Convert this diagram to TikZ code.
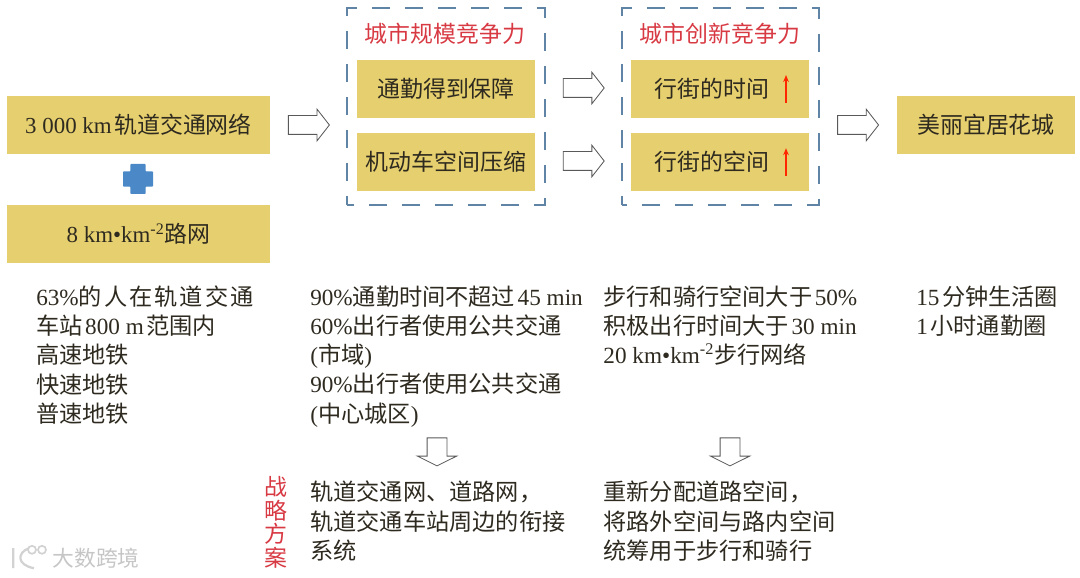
\documentclass[tikz,border=0pt]{standalone}
\usepackage{fontspec}
\setmainfont{Noto Sans CJK SC}
\newfontfamily\lat{Liberation Serif}
\usetikzlibrary{shapes.arrows,arrows.meta,positioning}
\definecolor{boxfill}{HTML}{E6CF6E}
\definecolor{dashblue}{HTML}{5F84A6}
\definecolor{plusblue}{HTML}{4A88C7}
\definecolor{inkdark}{HTML}{2E2A20}
\definecolor{titlered}{HTML}{D83A44}
\newcommand{\rmgap}[1]{\hspace{1.8pt}{\lat #1}\hspace{1.8pt}}
\tikzset{
  body/.style     ={font=\fontsize{16.3}{20.8}\selectfont,text=inkdark},
  goldbox/.style  ={rectangle,fill=boxfill,minimum height=1.45cm,inner sep=0pt,
                    align=center,body},
  wide/.style     ={goldbox,minimum width=6.575cm},
  inner/.style    ={goldbox,minimum width=4.45cm},
  title/.style    ={inner sep=0pt,font=\fontsize{16.3}{20.8}\selectfont,text=titlered},
  para/.style     ={anchor=north west,inner sep=0pt,align=left,
                    font=\fontsize{16.5}{20.8}\selectfont,text=inkdark},
  frame/.style    ={draw=dashblue,line width=0.9pt,dash pattern=on 0.45cm off 0.375cm,
                    dash phase=0.225cm},
  rarr/.style     ={single arrow,draw=black!65,fill=white,line width=0.6pt,inner sep=0.225cm,
                    minimum width=0.775cm,minimum height=1.025cm,
                    single arrow head extend=0.16cm,single arrow tip angle=104},
  darr/.style     ={single arrow,draw=black!65,fill=white,line width=0.6pt,inner sep=0.2375cm,
                    minimum width=0.96cm,minimum height=0.7cm,shape border rotate=270,
                    single arrow head extend=0.24cm,single arrow tip angle=127},
  uparr/.style    ={-{Stealth[length=5pt,width=4pt]},line width=0.8pt,draw=red!70!orange}
}
\begin{document}
\begin{tikzpicture}
  \useasboundingbox (0,0) rectangle (27,14.425);

  % Left column
  \node (rail) at (3.4625, 11.3) [wide] {{\lat 3 000 km}\hspace{1.8pt}轨道交通网络};
  \node (road) at (3.4625, 8.575) [wide] {{\lat 8 km\textbullet km\textsuperscript{-2}}路网};
  \fill[plusblue, rounded corners=0.5pt] (3.26, 9.575) -- (3.64, 9.575) -- (3.64, 9.76) -- (3.825, 9.76)
    -- (3.825, 10.14) -- (3.64, 10.14) -- (3.64, 10.325) -- (3.26, 10.325) -- (3.26, 10.14)
    -- (3.075, 10.14) -- (3.075, 9.76) -- (3.26, 9.76) -- cycle;

  % Scale frame
  \draw[frame] (8.675, 9.3) rectangle (13.625, 14.225);
  \node (scale) at (11.125, 13.575) [title] {城市规模竞争力};
  \node (commute) at (11.15, 12.2) [inner] {通勤得到保障};
  \node (motor) at (11.15, 10.375) [inner] {机动车空间压缩};

  % Innovation frame
  \draw[frame] (15.55, 9.3) rectangle (20.475, 14.225);
  \node (innov) at (18.0, 13.575) [title] {城市创新竞争力};
  \node (timebox) at (18.0, 12.2) [inner] {\hspace{-0.4cm}行街的时间};
  \node (spacebox) at (18.0, 10.375) [inner] {\hspace{-0.4cm}行街的空间};
  \coordinate (timelow) at (19.65, 11.85);
  \coordinate (timeup) at (19.65, 12.55);
  \coordinate (spacelow) at (19.65, 10.03);
  \coordinate (spaceup) at (19.65, 10.72);
  \draw[uparr] (timelow) -- (timeup);
  \draw[uparr] (spacelow) -- (spaceup);

  % Goal
  \node (goal) at (24.65, 11.3) [inner] {美丽宜居花城};

  % Block arrows
  \node (a1) at (7.63, 11.3) [rarr] {};
  \node (a2) at (14.5, 12.225) [rarr] {};
  \node (a3) at (14.5, 10.4) [rarr] {};
  \node (a4) at (21.36, 11.3) [rarr] {};
  \node (a5) at (10.925, 3.19) [darr] {};
  \node (a6) at (18.25, 3.19) [darr] {};

  % Texts
  \node (txt1) at (0.9, 7.29) [para] {{\addfontfeature{LetterSpace=9}{\lat 63\%}的人在轨道交通}\\车站\rmgap{800 m}范围内\\高速地铁\\快速地铁\\普速地铁};
  \node (txt2) at (7.75, 7.29) [para] {{\lat 90\%}通勤时间不超过\rmgap{45 min}\\{\lat 60\%}出行者使用公共交通\\{\lat (}市域{\lat )}\\{\lat 90\%}出行者使用公共交通\\{\lat (}中心城区{\lat )}};
  \node (txt3) at (15.08, 7.29) [para] {步行和骑行空间大于\rmgap{50\%}\\积极出行时间大于\rmgap{30 min}\\{\lat 20 km\textbullet km\textsuperscript{-2}}步行网络};
  \node (txt4) at (22.9, 7.29) [para] {{\lat 15}\hspace{1.8pt}分钟生活圈\\{\lat 1}\hspace{1.8pt}小时通勤圈};
  \node (plan) at (6.9, 2.52) [title, align=center, font=\fontsize{16.3}{16.7}\selectfont, anchor=north] {战\\略\\方\\案};
  \node (txt5) at (7.75, 2.4) [para] {轨道交通网、道路网，\\轨道交通车站周边的衔接\\系统};
  \node (txt6) at (15.08, 2.4) [para] {重新分配道路空间，\\将路外空间与路内空间\\统筹用于步行和骑行};

  % Watermark
  \draw[gray!35, line width=1.6pt] (0.33, 0.22) -- (0.33, 0.72) (0.72, 0.72) .. controls (0.42, 0.6) and (0.42, 0.3) .. (0.85, 0.22);
  \draw[gray!35, line width=1.2pt] (0.8, 0.68) circle (0.1) (1.05, 0.68) circle (0.1);
  \node (mark) at (2.4, 0.48) [inner sep=0pt, text=gray!45, font=\fontsize{15.5}{18}\selectfont] {大数跨境};
\end{tikzpicture}
\end{document}
